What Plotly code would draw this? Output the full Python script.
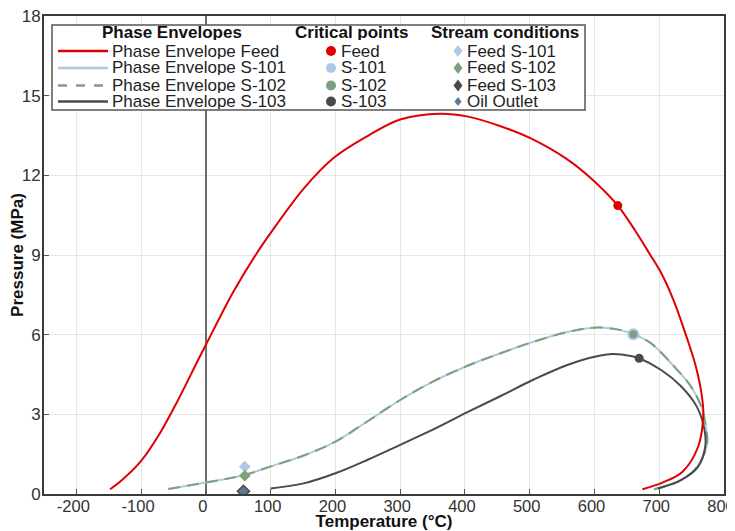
import plotly.graph_objects as go

# ---------------- data ----------------
feed_T = [-148, -130, -100, -71, -43, -14, 0, 42, 78, 102, 151, 197, 249, 300, 362, 403,
          455, 501, 558, 600, 636, 662, 685, 703, 722, 741, 756, 766, 768, 760, 736, 705, 674]
feed_P = [0.18, 0.52, 1.25, 2.29, 3.54, 4.95, 5.62, 7.6, 9.05, 9.9, 11.5, 12.65, 13.47, 14.1, 14.32, 14.22,
          13.85, 13.4, 12.6, 11.77, 10.86, 9.95, 9.05, 8.32, 7.3, 6.0, 4.85, 3.67, 2.95, 1.78, 0.84, 0.43, 0.18]

s101_T = [-58, 0, 60, 99, 151, 200, 249, 300, 352, 403, 455, 507, 558, 603, 635, 660,
          687, 723, 749, 765, 772, 774, 765, 752, 729, 692]
s101_P = [0.19, 0.43, 0.72, 1.03, 1.45, 1.97, 2.73, 3.54, 4.25, 4.82, 5.30, 5.74, 6.10, 6.27, 6.2, 6.02,
          5.68, 4.80, 4.05, 3.29, 2.54, 1.91, 1.28, 0.84, 0.46, 0.18]

s102_T = s101_T
s102_P = s101_P

s103_T = [100, 151, 200, 249, 300, 352, 403, 455, 507, 558, 602, 628, 656, 669,
          703, 734, 758, 770, 771, 760, 734, 698]
s103_P = [0.21, 0.40, 0.78, 1.28, 1.85, 2.44, 3.07, 3.69, 4.32, 4.86, 5.18, 5.27, 5.20, 5.11,
          4.67, 4.05, 3.29, 2.41, 1.78, 1.03, 0.53, 0.21]

crit_names = ["Feed", "S-101", "S-102", "S-103"]
crit_T = [636, 660, 660, 669]
crit_P = [10.86, 6.02, 6.02, 5.11]

stream_names = ["Feed S-101", "Feed S-102", "Feed S-103", "Oil Outlet"]
stream_T = [60, 60, 58, 58]
stream_P = [1.03, 0.69, 0.10, 0.10]

env_names = ["Phase Envelope Feed", "Phase Envelope S-101", "Phase Envelope S-102", "Phase Envelope S-103"]
group_titles = ["Phase Envelopes", "Critical points", "Stream conditions"]

x_tickvals = [-200, -100, 0, 100, 200, 300, 400, 500, 600, 700, 800]
x_ticktext = ["-200", "-100", "0", "100", "200", "300", "400", "500", "600", "700", "800"]
y_tickvals = [0, 3, 6, 9, 12, 15, 18]

# ---------------- styles ----------------
RED = "#e00000"
LBLUE = "#adc9e6"
GREEN = "#7f9f7f"
DARK = "#4a4a4a"
OIL = "#5b7896"
FONT = "Arial, 'Liberation Sans', sans-serif"
FS = 17

env_colors = [RED, LBLUE, GREEN, DARK]
env_dash = ["solid", "solid", "12px,7px", "solid"]
crit_colors = [RED, LBLUE, GREEN, DARK]
crit_sizes = [9, 12, 8, 9]
stream_colors = [LBLUE, GREEN, DARK, OIL]
stream_sizes = [9, 9, 11, 8]

fig = go.Figure()

curves = [(s101_T, s101_P, 1), (s102_T, s102_P, 2), (s103_T, s103_P, 3), (feed_T, feed_P, 0)]
for T, P, i in curves:
    fig.add_trace(go.Scatter(
        x=T, y=P, mode="lines", name=env_names[i], showlegend=False,
        line=dict(color=env_colors[i], width=2, dash=env_dash[i], shape="spline", smoothing=1.0),
    ))

for i in range(4):
    fig.add_trace(go.Scatter(
        x=[crit_T[i]], y=[crit_P[i]], mode="markers", name=crit_names[i], showlegend=False,
        marker=dict(color=crit_colors[i], size=crit_sizes[i], symbol="circle", line=dict(width=0)),
    ))

for i in range(4):
    fig.add_trace(go.Scatter(
        x=[stream_T[i]], y=[stream_P[i]], mode="markers", name=stream_names[i], showlegend=False,
        marker=dict(color=stream_colors[i], size=stream_sizes[i], symbol="diamond", line=dict(width=0)),
    ))

# ---------------- custom legend (paper coordinates) ----------------
# plot area in page pixels: x 44..724, y 16..494 (page body has an 8px margin)
PL, PT, PW, PH = 44, 16, 680, 478
BODY = 8
FIG_W, FIG_H = 735 - BODY, 531 - BODY


def xp(px):
    return (px - PL) / PW


def yp(py):
    return (PT + PH - py) / PH


shapes = [dict(type="rect", xref="paper", yref="paper", x0=xp(52), x1=xp(585), y0=yp(110), y1=yp(25),
               line=dict(color="#555555", width=1.5), fillcolor="white", layer="above")]
annotations = []

row_y = [51, 68, 85.5, 101.5]
header_x = [172, 351.5, 504.5]
for t, hx in zip(group_titles, header_x):
    annotations.append(dict(text="<b>" + t + "</b>", x=xp(hx), y=yp(33), xref="paper", yref="paper",
                            xanchor="center", yanchor="middle", showarrow=False, height=15, borderpad=0,
                            font=dict(size=FS, color="#111111", family=FONT)))

for i in range(4):
    y = yp(row_y[i])
    shapes.append(dict(type="line", xref="paper", yref="paper", x0=xp(58), x1=xp(108), y0=y, y1=y,
                       line=dict(color=env_colors[i], width=2.5,
                                 dash="dash" if env_dash[i] != "solid" else "solid"), layer="above"))
    annotations.append(dict(text=env_names[i], x=xp(111), y=y, xref="paper", yref="paper",
                            xanchor="left", yanchor="middle", showarrow=False, height=15, borderpad=0,
                            font=dict(size=FS, color="#222222", family=FONT)))
    shapes.append(dict(type="circle", xref="paper", yref="paper", xsizemode="pixel", ysizemode="pixel",
                       xanchor=xp(331), yanchor=y, x0=-5, x1=5, y0=-5, y1=5,
                       fillcolor=crit_colors[i], line=dict(width=0), layer="above"))
    annotations.append(dict(text=crit_names[i], x=xp(340), y=y, xref="paper", yref="paper",
                            xanchor="left", yanchor="middle", showarrow=False, height=15, borderpad=0,
                            font=dict(size=FS, color="#222222", family=FONT)))
    h = 6 if i < 3 else 4.5
    w = 4.5 if i < 3 else 3.5
    shapes.append(dict(type="path", xref="paper", yref="paper", xsizemode="pixel", ysizemode="pixel",
                       xanchor=xp(458), yanchor=y,
                       path=f"M 0,{h} L {w},0 L 0,{-h} L {-w},0 Z",
                       fillcolor=stream_colors[i], line=dict(width=0), layer="above"))
    annotations.append(dict(text=stream_names[i], x=xp(466), y=y, xref="paper", yref="paper",
                            xanchor="left", yanchor="middle", showarrow=False, height=15, borderpad=0,
                            font=dict(size=FS, color="#222222", family=FONT)))

fig.update_layout(
    width=FIG_W, height=FIG_H,
    margin=dict(l=PL - BODY, r=FIG_W - (PL - BODY) - PW, t=PT - BODY, b=FIG_H - (PT - BODY) - PH,
                autoexpand=False),
    paper_bgcolor="white", plot_bgcolor="white",
    font=dict(family=FONT, size=FS, color="#333333"),
    shapes=shapes, annotations=annotations,
    showlegend=False,
)

axis_common = dict(
    showline=True, linecolor="#3a3a3a", linewidth=2, mirror=True,
    showgrid=True, gridcolor="#e6e6e6", gridwidth=1,
    ticks="inside", ticklen=5, tickcolor="#555555", tickwidth=1,
    ticklabeloverflow="allow",
    automargin=False,
)

fig.update_xaxes(
    range=[-250, 800], tickvals=x_tickvals, ticktext=x_ticktext,
    zeroline=True, zerolinecolor="#6e6e6e", zerolinewidth=1.5,
    tickfont=dict(size=16.5, color="#333333", family=FONT),
    title=dict(text="<b>Temperature (°C)</b>", font=dict(size=FS, color="#111111", family=FONT), standoff=1),
    ticklabelstandoff=-4, ticklabelshift=-3,
    **axis_common,
)
fig.update_yaxes(
    range=[0, 18], tickvals=y_tickvals,
    zeroline=False,
    tickfont=dict(size=FS, color="#333333", family=FONT),
    title=dict(text="<b>Pressure (MPa)</b>", font=dict(size=FS, color="#111111", family=FONT), standoff=3),
    ticklabelstandoff=-2,
    **axis_common,
)

fig.write_html("out.html")
